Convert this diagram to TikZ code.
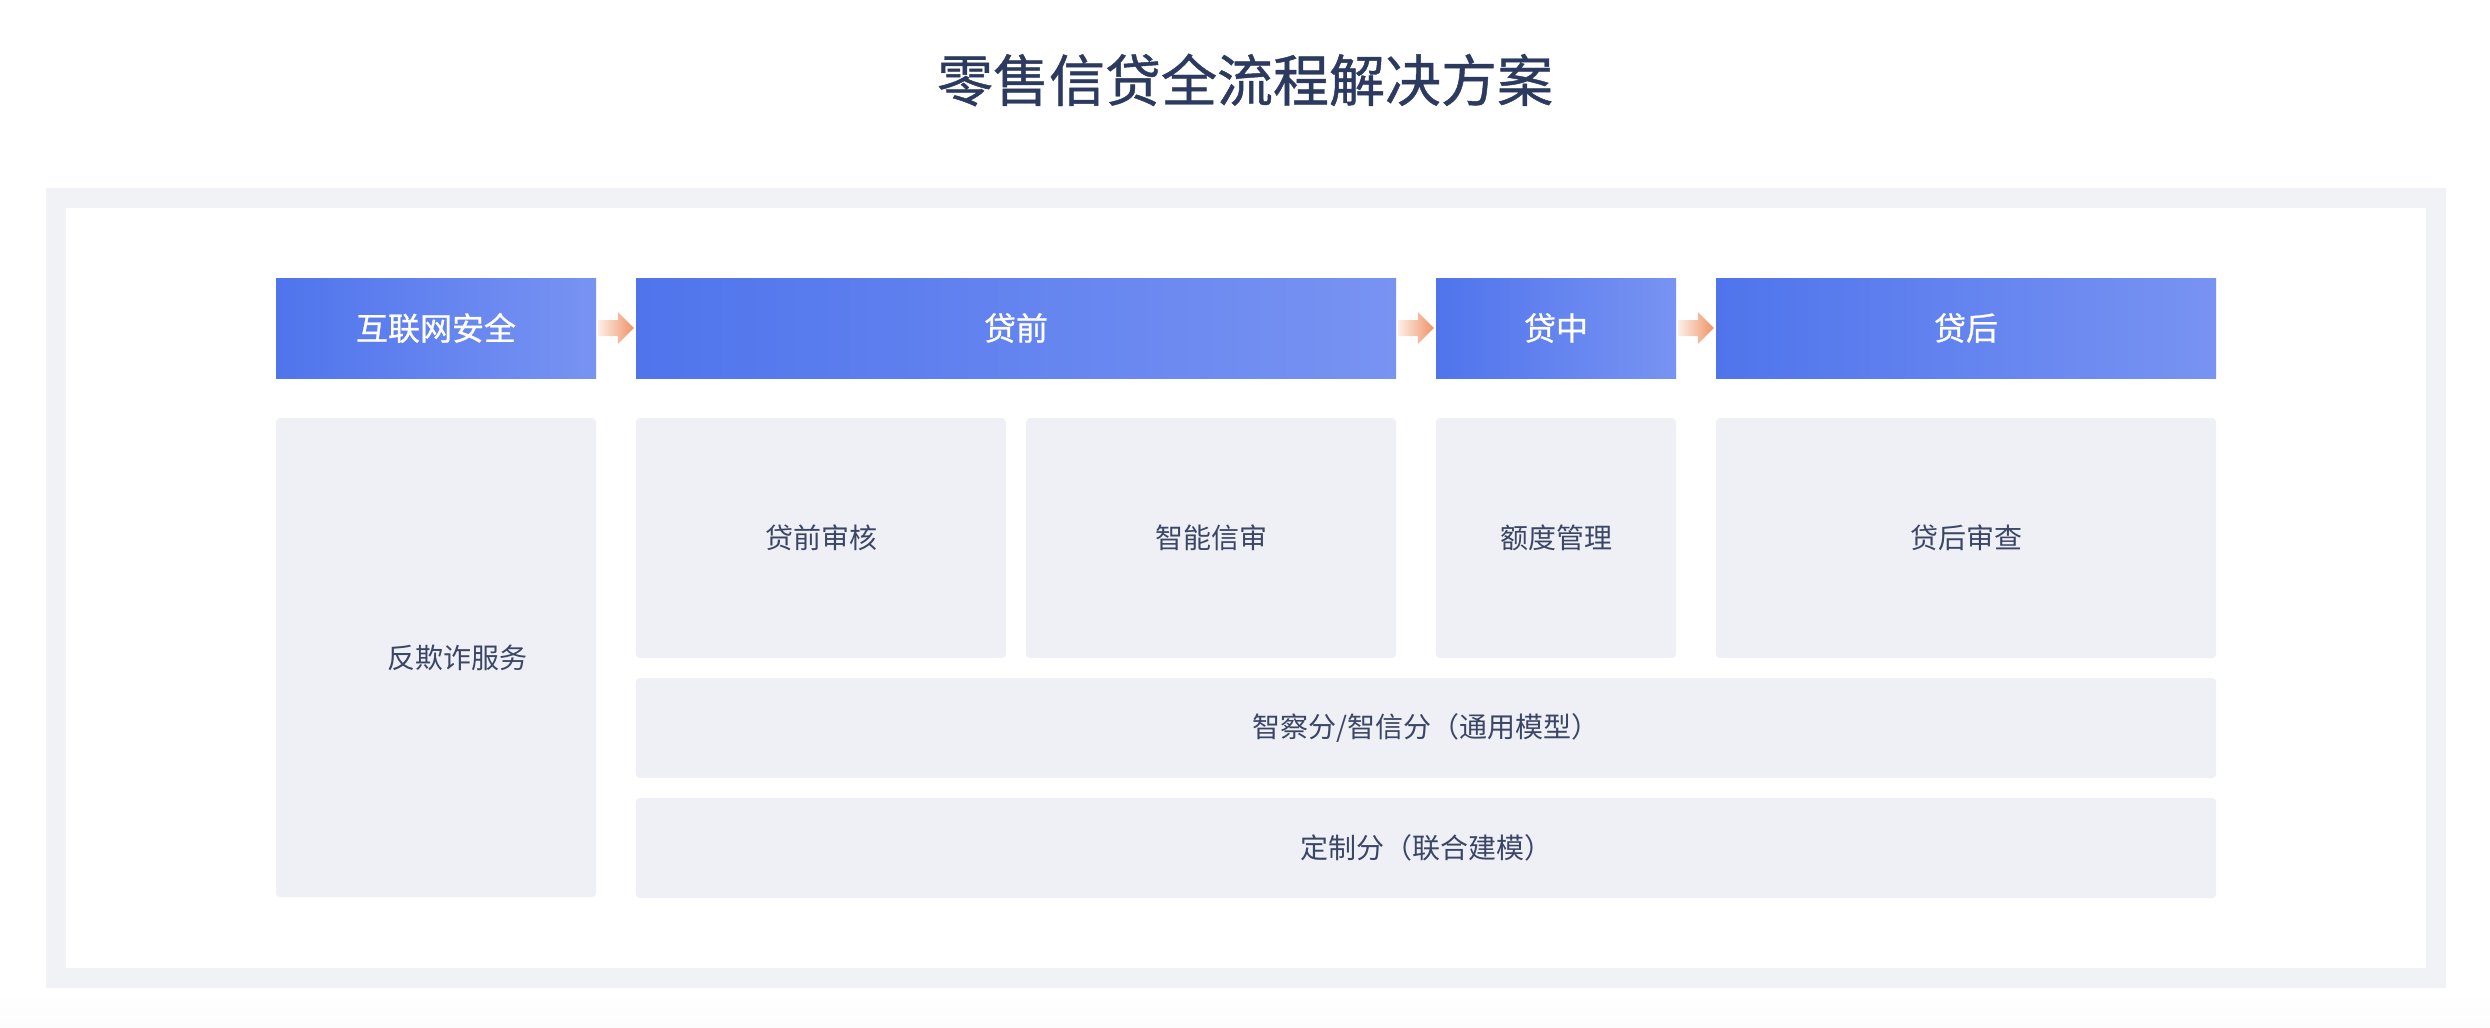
\documentclass[tikz,border=0pt]{standalone}
\usepackage{fontspec}
\newfontfamily\cjk{Noto Sans CJK SC}
\newfontfamily\cjkmed{Noto Sans CJK SC}[FakeBold=0.8]
\usetikzlibrary{calc}
\definecolor{framebg}{HTML}{F1F2F6}
\definecolor{cellbg}{HTML}{EEF0F5}
\definecolor{hleft}{HTML}{4F74EC}
\definecolor{hright}{HTML}{7893F2}
\definecolor{txt}{HTML}{3B4565}
\definecolor{ttl}{HTML}{2B3A5E}
\definecolor{arrR}{HTML}{EF9366}
\definecolor{arrL}{HTML}{FCEEE6}
\definecolor{bottomfade}{HTML}{FCFCFC}
\begin{document}
\begin{tikzpicture}[x=1pt,y=-1pt,
  hdr/.style={rectangle, left color=hleft, right color=hright, draw=none, text=white,
    font=\cjkmed\fontsize{32}{38}\selectfont, inner sep=0pt, minimum height=100pt},
  cell/.style={rectangle, rounded corners=4pt, fill=cellbg, text=txt,
    font=\cjk\fontsize{28}{34}\selectfont, inner sep=0pt},
  flowarrow/.style={left color=arrL, right color=arrR, draw=none}
]
\useasboundingbox (0,0) rectangle (2490,1028);
\fill[white] (0,0) rectangle (2490,1028);
\shade[top color=white, bottom color=bottomfade] (0,988) rectangle (2490,1028);
% frame
\fill[framebg] (46,188) rectangle (2446,988);
\fill[white] (66,208) rectangle (2426,968);
% title
\node[font=\cjkmed\fontsize{56}{64}\selectfont, text=ttl, inner sep=0pt] (title) at (1245,80) {零售信贷全流程解决方案};
% headers
\node[hdr, minimum width=320pt] (h1) at (436,328) {互联网安全};
\node[hdr, minimum width=760pt] (h2) at (1016,328) {贷前};
\node[hdr, minimum width=240pt] (h3) at (1556,328) {贷中};
\node[hdr, minimum width=500pt] (h4) at (1966,328) {贷后};
% arrows
\foreach \a/\b in {h1/h2,h2/h3,h3/h4}{
  \shade[flowarrow]
    ($(\a.east)+(2,-8)$) -- ($(\b.west)+(-18,-8)$) -- ($(\b.west)+(-18,-16)$)
    -- ($(\b.west)+(-2,0)$) -- ($(\b.west)+(-18,16)$) -- ($(\b.west)+(-18,8)$)
    -- ($(\a.east)+(2,8)$) -- cycle;
}
% cells
\node[cell, minimum width=320pt, minimum height=479pt] (c0) at (436,657.5) {\hspace*{42pt}反欺诈服务};
\node[cell, minimum width=370pt, minimum height=240pt] (c1) at (821,538) {贷前审核};
\node[cell, minimum width=370pt, minimum height=240pt] (c2) at (1211,538) {智能信审};
\node[cell, minimum width=240pt, minimum height=240pt] (c3) at (1556,538) {额度管理};
\node[cell, minimum width=500pt, minimum height=240pt] (c4) at (1966,538) {贷后审查};
\node[cell, minimum width=1580pt, minimum height=100pt] (r2) at (1426,728) {智察分/智信分（通用模型）};
\node[cell, minimum width=1580pt, minimum height=100pt] (r3) at (1426,848) {定制分（联合建模）};
\end{tikzpicture}
\end{document}
